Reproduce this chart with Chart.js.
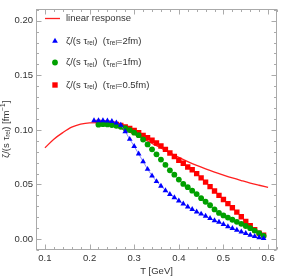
<!DOCTYPE html>
<html><head><meta charset="utf-8">
<script src="https://cdn.jsdelivr.net/npm/chart.js@4/dist/chart.umd.min.js"></script>
<style>html,body{margin:0;padding:0;background:#fff}#wrap{width:284px;height:279px}</style>
</head><body><div id="wrap"><canvas id="c" width="284" height="279"></canvas></div>
<script>
// ---- data ----
const lineT = [0.10,0.12,0.14,0.16,0.18,0.20,0.22,0.24,0.26,0.28,0.30,0.32,0.34,0.36,0.38,0.40,0.42,0.44,0.46,0.48,0.50,0.52,0.54,0.56,0.58,0.60];
const lineVals = [0.0836,0.0915,0.0975,0.1025,0.1053,0.1065,0.1066,0.1055,0.1032,0.0998,0.0962,0.0920,0.0877,0.0834,0.0790,0.0748,0.0710,0.0675,0.0643,0.0613,0.0586,0.0560,0.0536,0.0513,0.0493,0.0474];

const blueT = [0.21,0.22,0.23,0.24,0.25,0.26,0.27,0.28,0.29,0.30,0.31,0.32,0.33,0.34,0.35,0.36,0.37,0.38,0.39,0.40,0.41,0.42,0.43,0.44,0.45,0.46,0.47,0.48,0.49,0.50,0.51,0.52,0.53,0.54,0.55,0.56,0.57,0.58,0.59];
const blueVals = [0.1085,0.1085,0.1085,0.1083,0.1078,0.1065,0.1045,0.0985,0.0915,0.0850,0.0780,0.0710,0.0640,0.0580,0.0528,0.0485,0.0445,0.0410,0.0380,0.0350,0.0323,0.0295,0.0272,0.0250,0.0230,0.0210,0.0190,0.0170,0.0155,0.0135,0.0115,0.0099,0.0083,0.0067,0.0052,0.0037,0.0024,0.0013,0.0006];

const greenT = [0.22,0.23,0.24,0.25,0.26,0.27,0.28,0.29,0.30,0.31,0.32,0.33,0.34,0.35,0.36,0.37,0.38,0.39,0.40,0.41,0.42,0.43,0.44,0.45,0.46,0.47,0.48,0.49,0.50,0.51,0.52,0.53,0.54,0.55,0.56,0.57,0.58,0.59];
const greenVals = [0.1048,0.1052,0.1050,0.1045,0.1038,0.1028,0.1015,0.0998,0.0975,0.0952,0.0912,0.0867,0.0822,0.0776,0.0728,0.0680,0.0630,0.0590,0.0545,0.0505,0.0475,0.0443,0.0412,0.0375,0.0342,0.0310,0.0272,0.0240,0.0217,0.0197,0.0177,0.0158,0.0140,0.0120,0.0100,0.0078,0.0055,0.0030];

const redT = [0.22,0.23,0.24,0.25,0.26,0.27,0.28,0.29,0.30,0.31,0.32,0.33,0.34,0.35,0.36,0.37,0.38,0.39,0.40,0.41,0.42,0.43,0.44,0.45,0.46,0.47,0.48,0.49,0.50,0.51,0.52,0.53,0.54,0.55,0.56,0.57,0.58,0.59];
const redVals = [0.1068,0.1065,0.1062,0.1057,0.1050,0.1040,0.1028,0.1013,0.0995,0.0975,0.0950,0.0928,0.0905,0.0880,0.0852,0.0822,0.0788,0.0756,0.0722,0.0695,0.0660,0.0635,0.0600,0.0560,0.0522,0.0480,0.0440,0.0400,0.0362,0.0325,0.0287,0.0247,0.0205,0.0162,0.0122,0.0085,0.0055,0.0036];

const xTickVals = [0.1,0.2,0.3,0.4,0.5,0.6];
const yTickVals = [0.00,0.05,0.10,0.15,0.20];
const xTitle = 'T [GeV]';
const legendLabels = ['linear response','2fm','1fm','0.5fm'];

const toXY = (xs, ys) => xs.map((x,i)=>({x, y: ys[i]}));
const FONT = '"Liberation Sans", Arial, sans-serif';
const TXT = '#333';

function richWidth(ctx, segs, size){
  let w=0;
  for(const s of segs){ const sz = s.d ? size*0.68 : size; ctx.font = sz+'px '+FONT; w += ctx.measureText(s.t).width; }
  return w;
}
function drawRich(ctx, x, y, segs, size){
  ctx.textBaseline='middle'; ctx.textAlign='left';
  for(const s of segs){
    const sz = s.d ? size*0.68 : size;
    ctx.font = sz+'px '+FONT;
    const dy = s.d==='sub' ? size*0.28 : (s.d==='sup' ? -size*0.32 : 0);
    ctx.fillText(s.t, x, y+dy);
    x += ctx.measureText(s.t).width;
  }
}
const tauLabel = v => [{t:'ζ/(s τ'},{t:'rel',d:'sub'},{t:')  (τ'},{t:'rel',d:'sub'},{t:'='+v+')'}];

const framePlugin = {
  id:'frame',
  afterDraw(chart){
    const ctx = chart.ctx, a = chart.chartArea, xs = chart.scales.x, ys = chart.scales.y;
    ctx.save();
    ctx.strokeStyle = '#aaa'; ctx.lineWidth = 1;
    const L=Math.round(a.left)+0.5, R=Math.round(a.right)-0.5, T=Math.round(a.top)+0.5, B=Math.round(a.bottom)-0.5;
    ctx.strokeRect(L, T, R-L, B-T);
    ctx.beginPath();
    for(let k=4;k<=31;k++){
      const v = k*0.02; if(v<xs.min-1e-9||v>xs.max+1e-9) continue;
      const px = Math.round(xs.getPixelForValue(v))+0.5;
      const len = (k%5===0)?5:2.5;
      ctx.moveTo(px,B); ctx.lineTo(px,B-len);
      ctx.moveTo(px,T); ctx.lineTo(px,T+len);
    }
    for(let k=-1;k<=21;k++){
      const v = k*0.01; if(v<ys.min-1e-9||v>ys.max+1e-9) continue;
      const py = Math.round(ys.getPixelForValue(v))+0.5;
      const len = (k%5===0)?5:2.5;
      ctx.moveTo(L,py); ctx.lineTo(L+len,py);
      ctx.moveTo(R,py); ctx.lineTo(R-len,py);
    }
    ctx.stroke();

    // axis titles
    ctx.fillStyle = TXT;
    ctx.font = '9.5px '+FONT; ctx.textAlign='center'; ctx.textBaseline='middle';
    ctx.fillText(xTitle, (a.left+a.right)/2, 271);
    const ySegs = [{t:'ζ/(s τ'},{t:'rel',d:'sub'},{t:') [fm'},{t:'−1',d:'sup'},{t:']'}];
    const w = richWidth(ctx, ySegs, 9.5);
    ctx.save(); ctx.translate(6,(a.top+a.bottom)/2); ctx.rotate(-Math.PI/2);
    drawRich(ctx, -w/2, 0, ySegs, 9.5);
    ctx.restore();

    // legend
    const lx = 66;
    ctx.strokeStyle = '#ff2020'; ctx.lineWidth = 1.3;
    ctx.beginPath(); ctx.moveTo(45,18.5); ctx.lineTo(60,18.5); ctx.stroke();
    ctx.fillStyle = TXT; ctx.font='9.5px '+FONT; ctx.textAlign='left'; ctx.textBaseline='middle';
    ctx.fillText(legendLabels[0], lx, 18.5);
    const items = [
      {y:41, style:'triangle', color:'#0000ff', r:3.3, lab:legendLabels[1]},
      {y:62.5, style:'circle', color:'#00a000', r:2.9, lab:legendLabels[2]},
      {y:85, style:'rect', color:'#ff0000', r:3.8, lab:legendLabels[3]}
    ];
    for(const it of items){
      ctx.fillStyle = it.color;
      ctx.beginPath();
      if(it.style==='circle'){ ctx.arc(55,it.y,it.r,0,Math.PI*2); }
      else if(it.style==='rect'){ const s=it.r/Math.SQRT2; ctx.rect(55-s,it.y-s,2*s,2*s); }
      else { const h=it.r; ctx.moveTo(55,it.y-h); ctx.lineTo(55+h*0.866,it.y+h*0.5); ctx.lineTo(55-h*0.866,it.y+h*0.5); ctx.closePath(); }
      ctx.fill();
      ctx.fillStyle = TXT;
      drawRich(ctx, lx, it.y, tauLabel(it.lab), 9.5);
    }
    ctx.restore();
  }
};

new Chart(document.getElementById('c'), {
  type:'line',
  data:{ datasets:[
    {label:'linear response', data: toXY(lineT,lineVals), borderColor:'#ff2020', borderWidth:1.3, pointRadius:0, tension:0.4, cubicInterpolationMode:'monotone', fill:false, order:4},
    {label:'2fm', data: toXY(blueT,blueVals), borderColor:'rgba(90,90,255,0.7)', borderWidth:1, backgroundColor:'#0000ff', pointBackgroundColor:'#0000ff', pointBorderWidth:0, pointStyle:'triangle', pointRadius:3.3, tension:0, fill:false, order:1},
    {label:'1fm', data: toXY(greenT,greenVals), borderColor:'rgba(60,180,60,0.6)', borderWidth:1, pointBackgroundColor:'#00a000', pointBorderWidth:0, pointStyle:'circle', pointRadius:2.9, tension:0, fill:false, order:2},
    {label:'0.5fm', data: toXY(redT,redVals), borderColor:'rgba(255,90,90,0.6)', borderWidth:1, pointBackgroundColor:'#ff0000', pointBorderWidth:0, pointStyle:'rect', pointRadius:3.8, tension:0, fill:false, order:3}
  ]},
  options:{
    responsive:false, animation:false, devicePixelRatio:1,
    layout:{padding:{top:6,right:7,left:0,bottom:0}},
    plugins:{legend:{display:false}, tooltip:{enabled:false}},
    scales:{
      x:{type:'linear', min:0.08, max:0.62,
        afterBuildTicks(s){ s.ticks = xTickVals.map(v=>({value:v})); },
        afterFit(s){ s.height = 29; },
        grid:{display:false, drawTicks:false}, border:{display:false},
        ticks:{padding:3, color:TXT, font:{family:FONT, size:9.5}, maxRotation:0, autoSkip:false, callback:v=>v.toFixed(1)}},
      y:{type:'linear', min:-0.01, max:0.211,
        afterBuildTicks(s){ s.ticks = yTickVals.map(v=>({value:v})); },
        afterFit(s){ s.width = 36; },
        grid:{display:false, drawTicks:false}, border:{display:false},
        ticks:{padding:3, color:TXT, font:{family:FONT, size:9.5}, autoSkip:false, callback:v=>v.toFixed(2)}}
    }
  },
  plugins:[framePlugin]
});
</script></body></html>
